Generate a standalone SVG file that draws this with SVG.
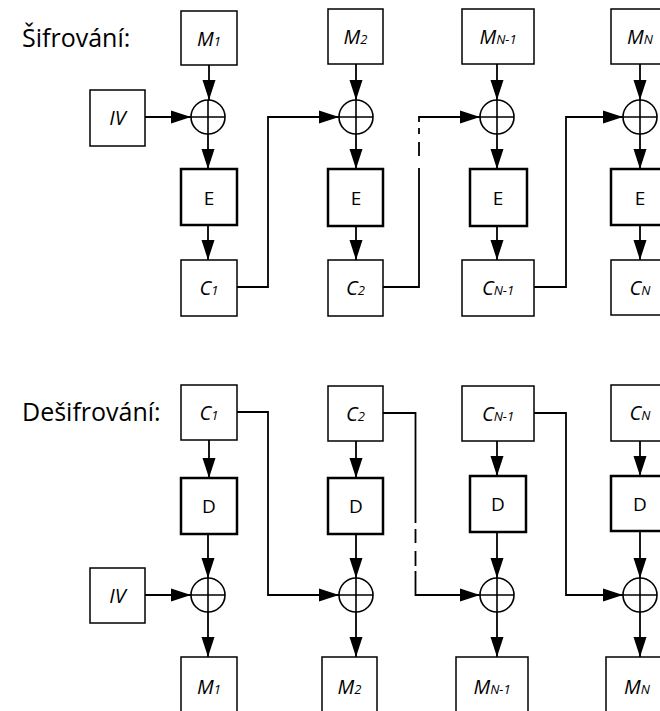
<svg xmlns="http://www.w3.org/2000/svg" width="660" height="711" viewBox="0 0 660 711">
  <defs>
    <marker id="ah" markerUnits="userSpaceOnUse" markerWidth="20" markerHeight="14" viewBox="0 0 20 14" refX="20" refY="7" orient="auto">
      <path d="M0,0.5 L20,7 L0,13.5 z" fill="#000"/>
    </marker>
  </defs>
  <style>
    .box { fill: #fff; stroke: #000; stroke-width: 1.5; }
    .cipher { fill: #fff; stroke: #000; stroke-width: 2.5; }
    .xor circle { fill: none; stroke: #000; stroke-width: 1.6; }
    .xor path { stroke: #000; stroke-width: 1.6; fill: none; }
    .wire { fill: none; stroke: #000; stroke-width: 1.8; }
    .arrow { fill: none; stroke: #000; stroke-width: 1.8; marker-end: url(#ah); }
    .lbl { font-family: "Open Sans", "Liberation Sans", sans-serif; font-size: 20px; font-style: italic; text-anchor: middle; fill: #000; }
    .sub { font-size: 13px; }
    .op { font-family: "Open Sans", "Liberation Sans", sans-serif; font-size: 19px; text-anchor: middle; fill: #000; }
    .title { font-family: "Open Sans", "Liberation Sans", sans-serif; font-size: 25px; fill: #000; }
  </style>

  <!-- section headings -->
  <text class="title" x="22" y="47">Šifrování:</text>
  <text class="title" x="22" y="421">Dešifrování:</text>

  <!-- connectors -->
  <g id="connectors">
    <!-- encryption: vertical flow -->
    <path class="arrow" d="M209,65 V100"/>
    <path class="arrow" d="M208,134 V169"/>
    <path class="arrow" d="M208,225 V260"/>
    <path class="arrow" d="M356,64 V100"/>
    <path class="arrow" d="M356,134 V169"/>
    <path class="arrow" d="M356,226 V260"/>
    <path class="arrow" d="M497,64 V100"/>
    <path class="arrow" d="M497,134 V169"/>
    <path class="arrow" d="M497,226 V260"/>
    <path class="arrow" d="M640,64 V100"/>
    <path class="arrow" d="M640,134 V169"/>
    <path class="arrow" d="M640,225 V260"/>
    <!-- encryption: IV and chaining -->
    <path class="arrow" d="M145,117 H191"/>
    <path class="arrow" d="M237,287 H268 V117 H339"/>
    <path class="wire" d="M383,287 H419 V168"/>
    <path class="wire" d="M419,156 V142 M419,134 V128"/>
    <path class="arrow" d="M419,122 V117 H480"/>
    <path class="arrow" d="M534,287 H566 V117 H623"/>

    <!-- decryption: vertical flow -->
    <path class="arrow" d="M209,440 V478"/>
    <path class="arrow" d="M208,534 V578"/>
    <path class="arrow" d="M208,612 V657"/>
    <path class="arrow" d="M356,441 V478"/>
    <path class="arrow" d="M356,534 V578"/>
    <path class="arrow" d="M356,612 V657"/>
    <path class="arrow" d="M497,441 V476"/>
    <path class="arrow" d="M497,532 V578"/>
    <path class="arrow" d="M497,612 V657"/>
    <path class="arrow" d="M640,441 V476"/>
    <path class="arrow" d="M640,531 V578"/>
    <path class="arrow" d="M640,612 V657"/>
    <!-- decryption: IV and chaining -->
    <path class="arrow" d="M145,595 H191"/>
    <path class="arrow" d="M237,412 H268 V595 H339"/>
    <path class="wire" d="M383,413 H415.5 V523"/>
    <path class="wire" d="M415.5,529 V543 M415.5,551 V566"/>
    <path class="arrow" d="M415.5,571 V595 H480"/>
    <path class="arrow" d="M534,413 H566 V595 H623"/>
  </g>

  <!-- encryption nodes -->
  <g id="enc-m1"><rect class="box" x="181" y="11" width="56" height="54"/><text class="lbl" x="209" y="46">M<tspan class="sub">1</tspan></text></g>
  <g id="enc-m2"><rect class="box" x="328" y="9" width="55" height="55"/><text class="lbl" x="355.5" y="44">M<tspan class="sub">2</tspan></text></g>
  <g id="enc-mn1"><rect class="box" x="462" y="9" width="72" height="55"/><text class="lbl" x="498" y="44">M<tspan class="sub">N-1</tspan></text></g>
  <g id="enc-mn"><rect class="box" x="611" y="9" width="58" height="55"/><text class="lbl" x="640" y="44">M<tspan class="sub">N</tspan></text></g>

  <g id="enc-iv"><rect class="box" x="90" y="90" width="55" height="56"/><text class="lbl" x="117.5" y="125">IV</text></g>

  <g id="enc-xor1" class="xor"><circle cx="208" cy="117" r="17"/><path d="M191,117 H225 M208,100 V134"/></g>
  <g id="enc-xor2" class="xor"><circle cx="356" cy="117" r="17"/><path d="M339,117 H373 M356,100 V134"/></g>
  <g id="enc-xor3" class="xor"><circle cx="497" cy="117" r="17"/><path d="M480,117 H514 M497,100 V134"/></g>
  <g id="enc-xor4" class="xor"><circle cx="640" cy="117" r="17"/><path d="M623,117 H657 M640,100 V134"/></g>

  <g id="enc-e1"><rect class="cipher" x="181" y="169" width="56" height="56"/><text class="op" x="209" y="205">E</text></g>
  <g id="enc-e2"><rect class="cipher" x="328" y="169" width="55" height="57"/><text class="op" x="356" y="205">E</text></g>
  <g id="enc-e3"><rect class="cipher" x="470" y="169" width="57" height="57"/><text class="op" x="498" y="205">E</text></g>
  <g id="enc-e4"><rect class="cipher" x="611" y="169" width="58" height="56"/><text class="op" x="640" y="205">E</text></g>

  <g id="enc-c1"><rect class="box" x="181" y="260" width="56" height="56"/><text class="lbl" x="209" y="295">C<tspan class="sub">1</tspan></text></g>
  <g id="enc-c2"><rect class="box" x="328" y="260" width="55" height="56"/><text class="lbl" x="355.5" y="295">C<tspan class="sub">2</tspan></text></g>
  <g id="enc-cn1"><rect class="box" x="462" y="260" width="72" height="56"/><text class="lbl" x="498" y="295">C<tspan class="sub">N-1</tspan></text></g>
  <g id="enc-cn"><rect class="box" x="611" y="260" width="58" height="55"/><text class="lbl" x="640" y="295">C<tspan class="sub">N</tspan></text></g>

  <!-- decryption nodes -->
  <g id="dec-c1"><rect class="box" x="181" y="385" width="56" height="55"/><text class="lbl" x="209" y="420">C<tspan class="sub">1</tspan></text></g>
  <g id="dec-c2"><rect class="box" x="328" y="386" width="55" height="55"/><text class="lbl" x="355.5" y="421">C<tspan class="sub">2</tspan></text></g>
  <g id="dec-cn1"><rect class="box" x="462" y="386" width="72" height="55"/><text class="lbl" x="498" y="421">C<tspan class="sub">N-1</tspan></text></g>
  <g id="dec-cn"><rect class="box" x="611" y="385" width="58" height="56"/><text class="lbl" x="640" y="420">C<tspan class="sub">N</tspan></text></g>

  <g id="dec-d1"><rect class="cipher" x="181" y="478" width="56" height="56"/><text class="op" x="209" y="513">D</text></g>
  <g id="dec-d2"><rect class="cipher" x="328" y="478" width="55" height="56"/><text class="op" x="356" y="513">D</text></g>
  <g id="dec-d3"><rect class="cipher" x="470" y="476" width="56" height="56"/><text class="op" x="498" y="511">D</text></g>
  <g id="dec-d4"><rect class="cipher" x="611" y="476" width="58" height="55"/><text class="op" x="640" y="511">D</text></g>

  <g id="dec-iv"><rect class="box" x="90" y="568" width="55" height="55"/><text class="lbl" x="117.5" y="603">IV</text></g>

  <g id="dec-xor1" class="xor"><circle cx="208" cy="595" r="17"/><path d="M191,595 H225 M208,578 V612"/></g>
  <g id="dec-xor2" class="xor"><circle cx="356" cy="595" r="17"/><path d="M339,595 H373 M356,578 V612"/></g>
  <g id="dec-xor3" class="xor"><circle cx="497" cy="595" r="17"/><path d="M480,595 H514 M497,578 V612"/></g>
  <g id="dec-xor4" class="xor"><circle cx="640" cy="595" r="17"/><path d="M623,595 H657 M640,578 V612"/></g>

  <g id="dec-m1"><rect class="box" x="181" y="657" width="56" height="60"/><text class="lbl" x="209" y="694">M<tspan class="sub">1</tspan></text></g>
  <g id="dec-m2"><rect class="box" x="322" y="657" width="55" height="60"/><text class="lbl" x="349.5" y="694">M<tspan class="sub">2</tspan></text></g>
  <g id="dec-mn1"><rect class="box" x="456" y="657" width="72" height="60"/><text class="lbl" x="492" y="694">M<tspan class="sub">N-1</tspan></text></g>
  <g id="dec-mn"><rect class="box" x="606" y="657" width="63" height="60"/><text class="lbl" x="637" y="694">M<tspan class="sub">N</tspan></text></g>
</svg>
